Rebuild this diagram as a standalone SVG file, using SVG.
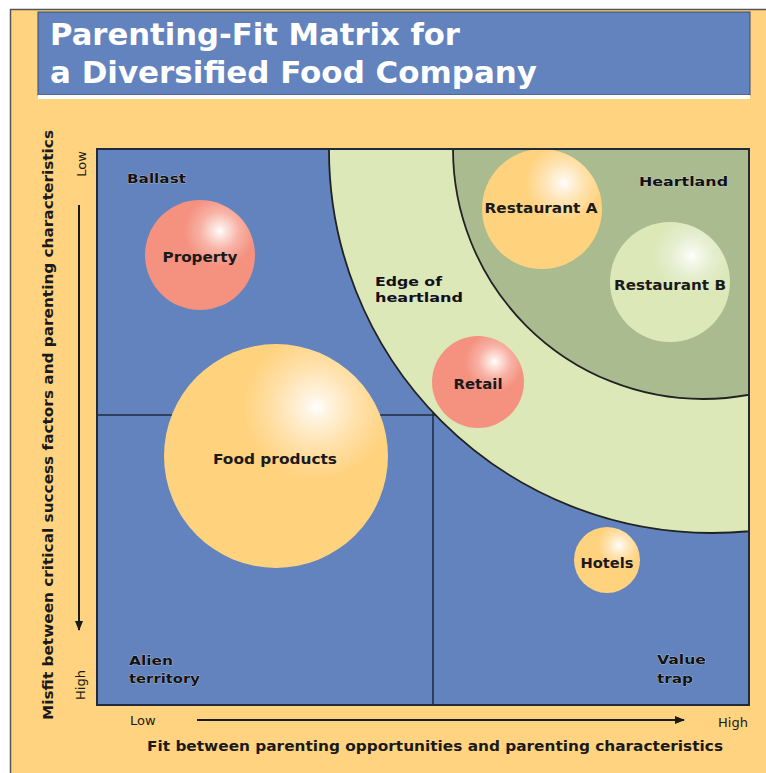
<svg xmlns="http://www.w3.org/2000/svg" width="766" height="773" viewBox="0 0 766 773">
  <defs>
    <style>
      .ttl { font-family: "DejaVu Sans", "Liberation Sans", sans-serif; font-weight: bold; fill: #ffffff; font-size: 31px; }
      .ax { font-family: "DejaVu Sans", "Liberation Sans", sans-serif; font-weight: bold; fill: #1a1a1a; font-size: 14.5px; }
      .tick { font-family: "DejaVu Sans", "Liberation Sans", sans-serif; fill: #1a1a1a; font-size: 13px; }
      .bub { font-family: "DejaVu Sans", "Liberation Sans", sans-serif; font-weight: bold; fill: #1a1a1a; font-size: 14px; text-anchor: middle; }
      .zone { font-family: "DejaVu Sans", "Liberation Sans", sans-serif; font-weight: bold; fill: #111111; font-size: 13px; stroke: #dddddd; stroke-width: 0.5px; paint-order: stroke; }
      .rule { stroke: #1e2a40; stroke-width: 1.5; fill: none; }
      .arc { stroke: #222222; stroke-width: 1.8; }
      .axisline { stroke: #1a1a1a; stroke-width: 2; fill: none; }
    </style>
    <marker id="arrowhead" viewBox="0 0 10 10" refX="9" refY="5" markerWidth="5" markerHeight="5" orient="auto">
      <path d="M0,1 L10,5 L0,9 z" fill="#1a1a1a"/>
    </marker>
    <clipPath id="plotClip">
      <rect x="97" y="149" width="652" height="556"/>
    </clipPath>
    <radialGradient id="gPink" cx="0.68" cy="0.28" r="0.5">
      <stop offset="0" stop-color="#ffffff"/>
      <stop offset="0.1" stop-color="#fde6e0"/>
      <stop offset="0.35" stop-color="#f8b2a5"/>
      <stop offset="0.65" stop-color="#f4917f"/>
    </radialGradient>
    <radialGradient id="gOrange" cx="0.68" cy="0.28" r="0.5">
      <stop offset="0" stop-color="#ffffff"/>
      <stop offset="0.1" stop-color="#fff4e2"/>
      <stop offset="0.35" stop-color="#ffe2ae"/>
      <stop offset="0.65" stop-color="#ffd27e"/>
    </radialGradient>
    <radialGradient id="gGreen" cx="0.68" cy="0.28" r="0.5">
      <stop offset="0" stop-color="#ffffff"/>
      <stop offset="0.1" stop-color="#f5f8ec"/>
      <stop offset="0.35" stop-color="#e5eecf"/>
      <stop offset="0.65" stop-color="#dce8b8"/>
    </radialGradient>
  </defs>

  <!-- page background and frame -->
  <rect x="0" y="0" width="766" height="773" fill="#ffffff"/>
  <rect x="10" y="9" width="756" height="764" fill="#ffd37f"/>
  <path d="M10.5,773 V9.5 H766" fill="none" stroke="#555555" stroke-width="1.5"/>

  <!-- title band -->
  <g id="title">
    <rect x="38" y="12" width="712" height="83" fill="#6283bd" stroke="#3a4a6a" stroke-width="1"/>
    <rect x="38" y="95" width="712" height="4" fill="#ffffff"/>
    <text class="ttl" x="50" y="45" textLength="410" lengthAdjust="spacingAndGlyphs">Parenting-Fit Matrix for</text>
    <text class="ttl" x="50" y="83" textLength="487" lengthAdjust="spacingAndGlyphs">a Diversified Food Company</text>
  </g>

  <!-- matrix field with parenting zones -->
  <g id="matrix">
    <rect x="97" y="149" width="652" height="556" fill="#6283bd"/>
    <line class="rule" x1="97" y1="415" x2="440" y2="415"/>
    <line class="rule" x1="433" y1="405" x2="433" y2="705"/>
    <g clip-path="url(#plotClip)">
      <circle id="edge-of-heartland-zone" class="arc" cx="712" cy="150" r="383" fill="#dce8b8"/>
      <circle id="heartland-zone" class="arc" cx="703" cy="149" r="250" fill="#aabb90"/>
    </g>
  </g>

  <!-- zone labels -->
  <g id="zone-labels">
    <text class="zone" x="127" y="183" textLength="59" lengthAdjust="spacingAndGlyphs">Ballast</text>
    <text class="zone" x="639" y="186" textLength="89" lengthAdjust="spacingAndGlyphs">Heartland</text>
    <text class="zone" x="375" y="286" textLength="67" lengthAdjust="spacingAndGlyphs">Edge of</text>
    <text class="zone" x="375" y="302" textLength="88" lengthAdjust="spacingAndGlyphs">heartland</text>
    <text class="zone" x="129" y="665" textLength="44" lengthAdjust="spacingAndGlyphs">Alien</text>
    <text class="zone" x="129" y="683" textLength="71" lengthAdjust="spacingAndGlyphs">territory</text>
    <text class="zone" x="657" y="664" textLength="49" lengthAdjust="spacingAndGlyphs">Value</text>
    <text class="zone" x="657" y="683" textLength="36" lengthAdjust="spacingAndGlyphs">trap</text>
  </g>

  <!-- businesses -->
  <g id="property">
    <circle cx="200" cy="255" r="55" fill="url(#gPink)"/>
    <text class="bub" x="200" y="262" textLength="75" lengthAdjust="spacingAndGlyphs">Property</text>
  </g>
  <g id="food-products">
    <circle cx="276" cy="456" r="112" fill="url(#gOrange)"/>
    <text class="bub" x="275" y="464" textLength="124" lengthAdjust="spacingAndGlyphs">Food products</text>
  </g>
  <g id="restaurant-a">
    <circle cx="542" cy="209" r="60" fill="url(#gOrange)"/>
    <text class="bub" x="541" y="213" textLength="113" lengthAdjust="spacingAndGlyphs">Restaurant A</text>
  </g>
  <g id="restaurant-b">
    <circle cx="670" cy="282" r="60" fill="url(#gGreen)"/>
    <text class="bub" x="670" y="290" textLength="112" lengthAdjust="spacingAndGlyphs">Restaurant B</text>
  </g>
  <g id="retail">
    <circle cx="478" cy="382" r="46" fill="url(#gPink)"/>
    <text class="bub" x="478" y="389" textLength="49" lengthAdjust="spacingAndGlyphs">Retail</text>
  </g>
  <g id="hotels">
    <circle cx="607" cy="560" r="33" fill="url(#gOrange)"/>
    <text class="bub" x="607" y="568" textLength="53" lengthAdjust="spacingAndGlyphs">Hotels</text>
  </g>

  <!-- plot border -->
  <rect x="97" y="149" width="652" height="556" fill="none" stroke="#222a3a" stroke-width="2"/>

  <!-- axes -->
  <g id="connectors">
    <line class="axisline" x1="79" y1="205" x2="79" y2="630" marker-end="url(#arrowhead)"/>
    <line class="axisline" x1="197" y1="720" x2="684" y2="720" marker-end="url(#arrowhead)"/>
  </g>
  <g id="axis-labels">
    <text class="tick" transform="translate(86,164) rotate(-90)" text-anchor="middle">Low</text>
    <text class="tick" transform="translate(85,685) rotate(-90)" text-anchor="middle">High</text>
    <text class="ax" transform="translate(53,425) rotate(-90)" text-anchor="middle" textLength="590" lengthAdjust="spacingAndGlyphs">Misfit between critical success factors and parenting characteristics</text>
    <text class="tick" x="130" y="725">Low</text>
    <text class="tick" x="718" y="727">High</text>
    <text class="ax" x="147" y="751" textLength="576" lengthAdjust="spacingAndGlyphs">Fit between parenting opportunities and parenting characteristics</text>
  </g>
</svg>
